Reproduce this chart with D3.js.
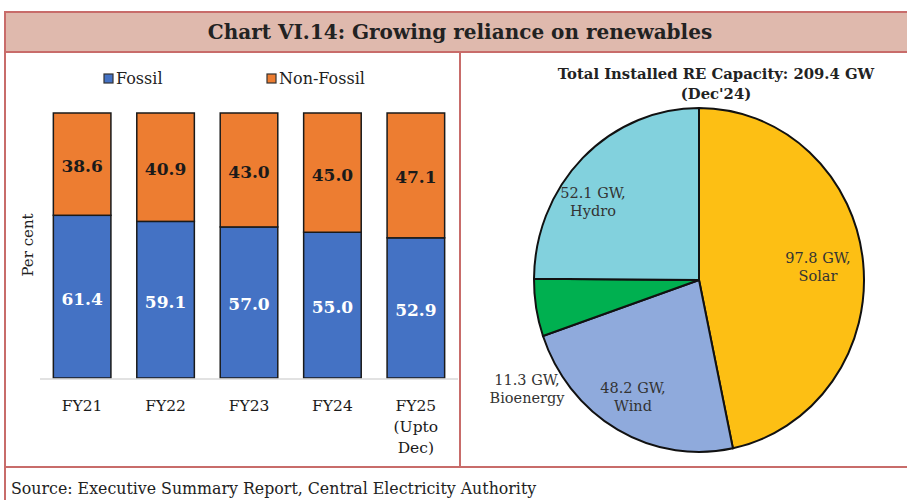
<!DOCTYPE html>
<html>
<head>
<meta charset="utf-8">
<script src="https://cdn.jsdelivr.net/npm/d3@7"></script>
<style>
  body { margin: 0; background: #fff; }
  svg { display: block; font-family: "DejaVu Serif", Georgia, serif; }
</style>
</head>
<body>
<svg id="chart" width="907" height="500"></svg>
<script>
// data
const years = ["FY21", "FY22", "FY23", "FY24", "FY25"];
const yearSub = [[], [], [], [], ["(Upto", "Dec)"]];
const fossil = [61.4, 59.1, 57.0, 55.0, 52.9];
const nonFossil = [38.6, 40.9, 43.0, 45.0, 47.1];

const reNames = ["Solar", "Wind", "Bioenergy", "Hydro"];
const reValues = [97.8, 48.2, 11.3, 52.1];
const reColors = ["#fdbf14", "#8faadc", "#00b050", "#82d1dd"];

const svg = d3.select("#chart");
const border = "#c86c6a";

// frame + title band
svg.append("rect")
  .attr("x", 5).attr("y", 12).attr("width", 910).attr("height", 40)
  .attr("fill", "#dfb9ad").attr("stroke", border).attr("stroke-width", 2);

svg.append("text")
  .attr("x", 460).attr("y", 39)
  .attr("text-anchor", "middle")
  .attr("font-size", 20).attr("font-weight", "bold").attr("fill", "#222")
  .text("Chart VI.14: Growing reliance on renewables");

svg.append("line").attr("x1", 5).attr("x2", 5).attr("y1", 52).attr("y2", 500)
  .attr("stroke", border).attr("stroke-width", 2);
svg.append("line").attr("x1", 460).attr("x2", 460).attr("y1", 52).attr("y2", 467)
  .attr("stroke", border).attr("stroke-width", 2);
svg.append("line").attr("x1", 5).attr("x2", 907).attr("y1", 467).attr("y2", 467)
  .attr("stroke", border).attr("stroke-width", 2);

svg.append("text")
  .attr("x", 11).attr("y", 494)
  .attr("font-size", 15.8).attr("fill", "#222")
  .text("Source: Executive Summary Report, Central Electricity Authority");

// ---- stacked bars
const x = d3.scaleBand().domain(years).range([40, 458]).paddingInner(0.31).paddingOuter(0.16);
const y = d3.scaleLinear().domain([0, 100]).range([378, 113]);

const rows = years.map((yr, i) => ({ yr, fossil: fossil[i], nonFossil: nonFossil[i] }));
const stack = d3.stack().keys(["fossil", "nonFossil"])(rows);
const barColors = { fossil: "#4472c4", nonFossil: "#ed7d31" };

const bars = svg.append("g");
stack.forEach(layer => {
  bars.selectAll(null)
    .data(layer)
    .join("rect")
    .attr("x", d => x(d.data.yr))
    .attr("width", x.bandwidth())
    .attr("y", d => y(d[1]))
    .attr("height", d => y(d[0]) - y(d[1]))
    .attr("fill", barColors[layer.key])
    .attr("stroke", "#1a1a1a")
    .attr("stroke-width", 1.5);

  bars.selectAll(null)
    .data(layer)
    .join("text")
    .attr("x", d => x(d.data.yr) + x.bandwidth() / 2)
    .attr("y", d => (y(d[0]) + y(d[1])) / 2 + 8)
    .attr("text-anchor", "middle")
    .attr("font-size", 17).attr("font-weight", "bold")
    .attr("fill", layer.key === "fossil" ? "#fff" : "#1a1a1a")
    .text(d => d.data[layer.key].toFixed(1));
});

// baseline
svg.append("line")
  .attr("x1", 40).attr("x2", 458).attr("y1", y(0) + 1).attr("y2", y(0) + 1)
  .attr("stroke", "#d9d9d9").attr("stroke-width", 1.5);

// x labels
const xl = svg.append("g");
years.forEach((yr, i) => {
  const t = xl.append("text")
    .attr("x", x(yr) + x.bandwidth() / 2).attr("y", 411)
    .attr("text-anchor", "middle").attr("font-size", 15.5).attr("fill", "#1a1a1a");
  [yr].concat(yearSub[i]).forEach((s, j) => {
    t.append("tspan").attr("x", x(yr) + x.bandwidth() / 2).attr("dy", j ? 21 : 0).text(s);
  });
});

svg.append("text")
  .attr("transform", "translate(33,245) rotate(-90)")
  .attr("text-anchor", "middle").attr("font-size", 15).attr("fill", "#222")
  .text("Per cent");

// legend
const legend = [["Fossil", "#4472c4", 104], ["Non-Fossil", "#ed7d31", 267]];
legend.forEach(([name, col, lx]) => {
  svg.append("rect").attr("x", lx).attr("y", 74).attr("width", 9).attr("height", 9)
    .attr("fill", col).attr("stroke", "#333").attr("stroke-width", 1.2);
  svg.append("text").attr("x", lx + 12).attr("y", 84)
    .attr("font-size", 16).attr("fill", "#222").text(name);
});

// ---- pie
const cx = 699, cy = 280, rx = 165, ry = 172;
const pieG = svg.append("g").attr("transform", `translate(${cx},${cy}) scale(1,${ry / rx})`);
const arcs = d3.pie().sort(null)(reValues);
const arc = d3.arc().innerRadius(0).outerRadius(rx);

pieG.selectAll("path")
  .data(arcs)
  .join("path")
  .attr("d", arc)
  .attr("fill", (d, i) => reColors[i])
  .attr("stroke", "#111")
  .attr("stroke-width", 2)
  .attr("vector-effect", "non-scaling-stroke");

// label positions relative to pie centre
const labelPos = [[119, -17], [-66, 113], [-172, 105], [-106, -82]];
arcs.forEach((d, i) => {
  const t = svg.append("text")
    .attr("text-anchor", "middle").attr("font-size", 14.5).attr("fill", "#333");
  const lx = cx + labelPos[i][0], ly = cy + labelPos[i][1];
  t.append("tspan").attr("x", lx).attr("y", ly).text(reValues[i].toFixed(1) + " GW,");
  t.append("tspan").attr("x", lx).attr("y", ly + 18).text(reNames[i]);
});

const total = d3.sum(reValues);
svg.append("text")
  .attr("x", 716).attr("y", 79)
  .attr("text-anchor", "middle").attr("font-size", 14.8).attr("font-weight", "bold").attr("fill", "#222")
  .text(`Total Installed RE Capacity: ${total.toFixed(1)} GW`);
svg.append("text")
  .attr("x", 716).attr("y", 99)
  .attr("text-anchor", "middle").attr("font-size", 14.8).attr("font-weight", "bold").attr("fill", "#222")
  .text("(Dec'24)");
</script>
</body>
</html>
